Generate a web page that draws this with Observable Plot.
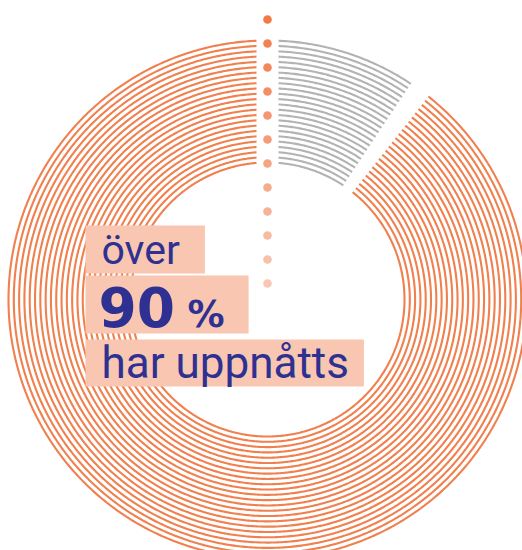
<!DOCTYPE html>
<html>
<head>
<meta charset="utf-8">
<script src="https://cdn.jsdelivr.net/npm/d3@7"></script>
<script src="https://cdn.jsdelivr.net/npm/@observablehq/plot@0.6"></script>
<style>
  html, body { margin: 0; padding: 0; background: #ffffff; }
  svg { display: block; }
</style>
</head>
<body>
<script>
// ---- data ----
const categories = ["ej uppnått", "uppnått"];
const shares = [10, 90];               // percent of the full circle, clockwise from 12 o'clock
const segmentColors = ["#b3b3b3", "#f0804f"];
const ringCount = 24;
const dotCount = 12;
const labelTop = ["över"];
const labelBig = ["90"];
const labelUnit = ["%"];
const labelBottom = ["har uppnåtts"];

// ---- layout ----
const width = 522, height = 550;
const cx = 267, cy = 299;
const innerR = 137, outerR = 259;
const topGapHalf = 11;        // px, constant-width gap at 12 o'clock
const sepHalf = 2.4 * Math.PI / 180; // angular half-gap between segments
const navy = "#2e3192";
const peach = "#f9c6b1";

// cumulative boundaries (radians)
const total = d3.sum(shares);
const bounds = [0];
shares.forEach((v, i) => bounds.push(bounds[i] + v / total * 2 * Math.PI));

const ringPts = [];
for (let k = 0; k < ringCount; k++) {
  const r = innerR + k * (outerR - innerR) / (ringCount - 1);
  const topA = Math.asin(topGapHalf / r);
  shares.forEach((v, s) => {
    let a0 = bounds[s], a1 = bounds[s + 1];
    a0 = s === 0 ? Math.max(a0, topA) : a0 + sepHalf;
    a1 = s === shares.length - 1 ? a1 - topA : a1 - sepHalf;
    const n = Math.ceil((a1 - a0) / (0.5 * Math.PI / 180));
    for (let j = 0; j <= n; j++) {
      const a = a0 + (a1 - a0) * j / n;
      ringPts.push({ring: k, seg: s, cat: categories[s], key: k + "-" + s, a, r});
    }
  });
}

const dots = d3.range(dotCount).map(i => ({i}));
const dotColor = d3.interpolateRgb("#f27a47", "#f9c8b4");

const font = "Roboto, 'Noto Sans', sans-serif";
const boldFont = "'DejaVu Sans', Roboto, sans-serif";

const chart = Plot.plot({
  width, height,
  margin: 0,
  x: {domain: [-cx, width - cx], range: [0, width], axis: null},
  y: {domain: [cy - height, cy], range: [height, 0], axis: null},
  marks: [
    Plot.line(ringPts, {
      x: d => d.r * Math.sin(d.a),
      y: d => d.r * Math.cos(d.a),
      z: "key",
      stroke: d => segmentColors[d.seg],
      strokeWidth: 2.1,
      strokeLinecap: "butt"
    }),
    Plot.dot(dots, {
      x: () => 0,
      y: d => outerR + 21 - d.i * 24,
      r: 4.3,
      fill: d => dotColor(d.i / (dotCount - 1)),
      stroke: null
    }),
    Plot.text(labelTop, {
      frameAnchor: "top-left", dx: 101, dy: 263,
      text: d => d, textAnchor: "start", lineAnchor: "bottom",
      fontSize: 41, fontFamily: font, fill: navy, ariaLabel: () => "label-over"
    }),
    Plot.text(labelBig, {
      frameAnchor: "top-left", dx: 98, dy: 326,
      text: d => d, textAnchor: "start", lineAnchor: "bottom",
      fontSize: 55, fontWeight: 700, fontFamily: boldFont, fill: navy, ariaLabel: () => "label-90"
    }),
    Plot.text(labelUnit, {
      frameAnchor: "top-left", dx: 187, dy: 326,
      text: d => d, textAnchor: "start", lineAnchor: "bottom",
      fontSize: 37, fontWeight: 700, fontFamily: boldFont, fill: navy, ariaLabel: () => "label-90"
    }),
    Plot.text(labelBottom, {
      frameAnchor: "top-left", dx: 101, dy: 377,
      text: d => d, textAnchor: "start", lineAnchor: "bottom",
      fontSize: 44, fontFamily: font, fill: navy, ariaLabel: () => "label-har"
    })
  ]
});

document.body.append(chart);

// background boxes behind the label groups, sized from the text itself
const boxes = [
  {label: "label-over", pad: [0, 25, 0, 16]},
  {label: "label-90",   pad: [0, 24, -6, 13]},
  {label: "label-har",  pad: [-3, 15, -2, 16]}
];
const ns = "http://www.w3.org/2000/svg";
function textsFor(label) {
  const out = [];
  chart.querySelectorAll(`[aria-label="${label}"]`).forEach(el => {
    if (el.tagName.toLowerCase() === "text") out.push(el);
    else el.querySelectorAll("text").forEach(t => out.push(t));
  });
  return out;
}
const allTexts = chart.querySelectorAll("text");
let anchorNode = null;
if (allTexts.length) {
  let n = textsFor("label-over")[0] || allTexts[0];
  while (n && n.parentNode !== chart) n = n.parentNode;
  anchorNode = n;
}
for (const b of boxes) {
  const texts = textsFor(b.label);
  if (!texts.length) continue;
  let x0 = Infinity, y0 = Infinity, x1 = -Infinity, y1 = -Infinity;
  const inv = chart.getScreenCTM().inverse();
  texts.forEach(t => {
    const bb = t.getBBox();
    const sm = inv.multiply(t.getScreenCTM());
    const pt0 = chart.createSVGPoint(); pt0.x = bb.x; pt0.y = bb.y;
    const pt1 = chart.createSVGPoint(); pt1.x = bb.x + bb.width; pt1.y = bb.y + bb.height;
    const p0 = pt0.matrixTransform(sm), p1 = pt1.matrixTransform(sm);
    x0 = Math.min(x0, p0.x); y0 = Math.min(y0, p0.y);
    x1 = Math.max(x1, p1.x); y1 = Math.max(y1, p1.y);
  });
  const [pt, pr, pb, pl] = b.pad;
  const rect = document.createElementNS(ns, "rect");
  rect.setAttribute("x", x0 - pl);
  rect.setAttribute("y", y0 - pt);
  rect.setAttribute("width", (x1 + pr) - (x0 - pl));
  rect.setAttribute("height", (y1 + pb) - (y0 - pt));
  rect.setAttribute("fill", peach);
  chart.insertBefore(rect, anchorNode);
}
</script>
</body>
</html>
